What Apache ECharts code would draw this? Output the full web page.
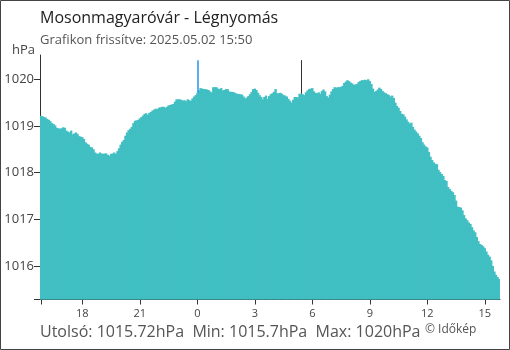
<!DOCTYPE html>
<html><head><meta charset="utf-8">
<script src="https://cdn.jsdelivr.net/npm/echarts@6/dist/echarts.min.js"></script>
<style>html,body{margin:0;padding:0;background:#fff}#c{width:510px;height:350px}</style>
</head><body><div id="c"></div>
<script>
// ---- data ----
const startHour = 15, startMinute = 50, stepMinutes = 5;
const pressure = [
1019.22,1019.21,1019.19,1019.18,1019.15,1019.13,1019.10,1019.06,1019.04,1019.01,1018.96,1018.95,
1018.94,1018.95,1018.97,1018.96,1018.90,1018.88,1018.86,1018.90,1018.82,1018.84,1018.86,1018.83,
1018.78,1018.77,1018.76,1018.72,1018.65,1018.62,1018.60,1018.55,1018.54,1018.50,1018.43,1018.41,
1018.40,1018.43,1018.41,1018.40,1018.41,1018.41,1018.38,1018.36,1018.40,1018.41,1018.43,1018.40,
1018.46,1018.52,1018.60,1018.66,1018.70,1018.79,1018.86,1018.91,1018.94,1018.98,1019.06,1019.11,
1019.12,1019.13,1019.16,1019.19,1019.22,1019.26,1019.27,1019.24,1019.28,1019.30,1019.33,1019.35,
1019.37,1019.36,1019.39,1019.40,1019.41,1019.41,1019.39,1019.41,1019.44,1019.45,1019.46,1019.47,
1019.52,1019.57,1019.57,1019.57,1019.56,1019.54,1019.55,1019.53,1019.57,1019.55,1019.54,1019.59,
1019.63,1019.66,1019.70,1019.76,1019.81,1019.80,1019.79,1019.79,1019.78,1019.77,1019.74,1019.72,
1019.83,1019.83,1019.83,1019.80,1019.79,1019.81,1019.76,1019.77,1019.79,1019.79,1019.74,1019.73,
1019.73,1019.72,1019.70,1019.69,1019.68,1019.68,1019.67,1019.63,1019.59,1019.61,1019.64,1019.68,
1019.73,1019.79,1019.80,1019.77,1019.71,1019.66,1019.62,1019.57,1019.62,1019.65,1019.58,1019.64,
1019.68,1019.70,1019.73,1019.79,1019.70,1019.70,1019.71,1019.69,1019.66,1019.65,1019.63,1019.58,
1019.54,1019.50,1019.56,1019.62,1019.62,1019.61,1019.69,1019.69,1019.68,1019.66,1019.72,1019.76,
1019.79,1019.80,1019.81,1019.74,1019.71,1019.70,1019.72,1019.69,1019.75,1019.78,1019.74,1019.64,
1019.61,1019.67,1019.74,1019.79,1019.83,1019.82,1019.83,1019.83,1019.84,1019.86,1019.92,1019.95,
1019.98,1019.96,1019.93,1019.91,1019.88,1019.89,1019.90,1019.94,1019.96,1019.98,1019.98,1019.99,
1019.98,1020.00,1019.96,1019.90,1019.80,1019.73,1019.75,1019.78,1019.82,1019.79,1019.75,1019.72,
1019.70,1019.68,1019.66,1019.63,1019.65,1019.60,1019.50,1019.43,1019.39,1019.32,1019.26,1019.25,
1019.20,1019.14,1019.09,1019.05,1019.07,1018.98,1018.92,1018.88,1018.84,1018.79,1018.74,1018.65,
1018.60,1018.56,1018.54,1018.44,1018.34,1018.27,1018.22,1018.19,1018.18,1018.06,1018.01,1017.97,
1017.93,1017.84,1017.82,1017.69,1017.65,1017.61,1017.58,1017.52,1017.40,1017.27,1017.26,1017.25,
1017.19,1017.09,1017.02,1016.98,1016.93,1016.90,1016.83,1016.76,1016.72,1016.62,1016.53,1016.47,
1016.45,1016.42,1016.38,1016.31,1016.24,1016.20,1016.12,1016.00,1015.88,1015.81,1015.76,1015.72
];
const labelHours = [18, 21, 0, 3, 6, 9, 12, 15];
const yTickValues = [1016, 1017, 1018, 1019, 1020];
const yMin = 1015.28, yMax = 1020.52;
const midnightCategory = '00:00';
const sunriseCategory = '05:25';
const markerTop = 1020.41;
const titleText = 'Mosonmagyaróvár - Légnyomás';
const subtitleText = 'Grafikon frissítve: 2025.05.02 15:50';
const unitText = 'hPa';
const statsText = 'Utolsó: 1015.72hPa  Min: 1015.7hPa  Max: 1020hPa';
const creditText = '© Időkép';

// category labels (time of day)
const categories = pressure.map((_, i) => {
  const m = (startHour * 60 + startMinute + i * stepMinutes) % 1440;
  const hh = Math.floor(m / 60), mm = m % 60;
  return String(hh).padStart(2, '0') + ':' + String(mm).padStart(2, '0');
});
const isLabelTime = (c) => c.endsWith(':00') && labelHours.includes(parseInt(c.slice(0, 2), 10));

const FONT = '"Open Sans", "Noto Sans", sans-serif';
const chart = echarts.init(document.getElementById('c'), null, {renderer: 'canvas'});
const barColor = '#41bfc2';
const midIdx = categories.indexOf(midnightCategory);
const sunIdx = categories.indexOf(sunriseCategory);

function markerSeries(cat, idx, color, width) {
  return {
    type: 'line', data: [], silent: true, showSymbol: false, z: 5,
    markLine: {
      silent: true, symbol: 'none', animation: false, label: {show: false},
      lineStyle: {color: color, width: width, type: 'solid', opacity: 1},
      emphasis: {disabled: true},
      data: [[{coord: [cat, markerTop]}, {coord: [cat, pressure[idx]]}]]
    }
  };
}

chart.setOption({
  animation: false,
  backgroundColor: '#fff',
  title: [
    {text: titleText, left: 40, top: 10, padding: 0,
     textStyle: {fontFamily: FONT, fontSize: 16, fontWeight: 'normal', color: '#222'}},
    {text: subtitleText, left: 40, top: 34, padding: 0,
     textStyle: {fontFamily: FONT, fontSize: 13, fontWeight: 'normal', color: '#555'}},
    {text: unitText, left: 12, top: 44, padding: 0,
     textStyle: {fontFamily: FONT, fontSize: 13, fontWeight: 'normal', color: '#444'}},
    {text: statsText, left: 40, top: 324, padding: 0,
     textStyle: {fontFamily: FONT, fontSize: 16, fontWeight: 'normal', color: '#555'}},
    {text: creditText, left: 425, top: 324, padding: 0,
     textStyle: {fontFamily: FONT, fontSize: 12, fontWeight: 'normal', color: '#555'}}
  ],
  grid: {left: 40, right: 10, top: 55, bottom: 50.5, containLabel: false},
  xAxis: {
    type: 'category', data: categories, boundaryGap: true,
    axisLine: {show: true, lineStyle: {color: '#333', width: 1}},
    axisTick: {show: true, length: 5, alignWithLabel: true, lineStyle: {color: '#333'},
      interval: (idx, val) => idx === 0 || isLabelTime(val)},
    axisLabel: {show: true, interval: (idx, val) => isLabelTime(val), margin: 9,
      fontFamily: FONT, fontSize: 11, color: '#444',
      formatter: (v) => String(parseInt(v.slice(0, 2), 10))},
    splitLine: {show: false}
  },
  yAxis: {
    type: 'value', min: yMin, max: yMax,
    axisLine: {show: true, lineStyle: {color: '#333', width: 1}},
    axisTick: {show: true, length: 6, lineStyle: {color: '#333'}, customValues: [yMin].concat(yTickValues)},
    axisLabel: {show: true, customValues: yTickValues, margin: 6,
      fontFamily: FONT, fontSize: 13, color: '#444',
      formatter: (v) => String(Math.round(v))},
    splitLine: {show: false}
  },
  series: [
    {
      type: 'bar', data: pressure, barWidth: 2.4, barGap: '-100%',
      itemStyle: {color: barColor, borderWidth: 0},
      silent: true, clip: true
    },
    markerSeries(midnightCategory, midIdx, '#2196f3', 1.5),
    markerSeries(sunriseCategory, sunIdx, '#333333', 1)
  ],
  graphic: [{
    type: 'rect', silent: true, z: 100,
    shape: {x: 0.5, y: 0.5, width: 509, height: 349},
    style: {fill: 'none', stroke: '#444', lineWidth: 1}
  }]
});
</script>
</body></html>
